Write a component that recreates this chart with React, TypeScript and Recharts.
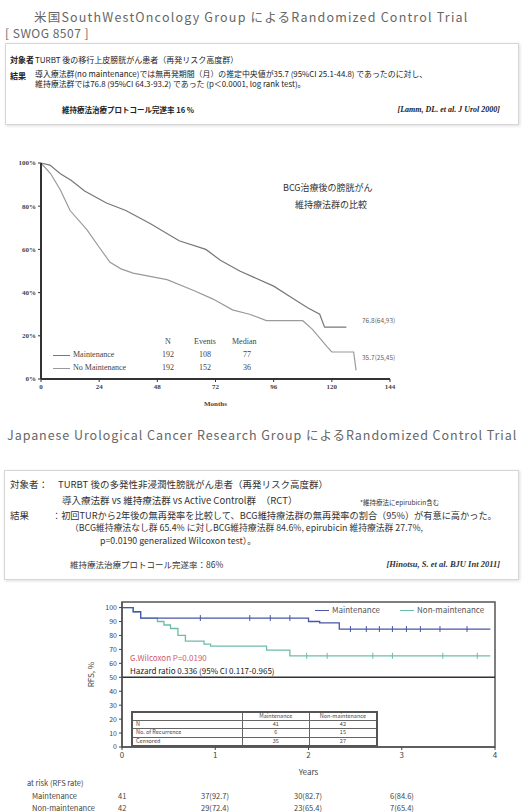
import React from "react";
import { ComposedChart, Line, LineChart, ReferenceArea, ReferenceLine, Scatter, XAxis, YAxis } from "recharts";

// SWOG 8507 (months vs % recurrence-free)
const swogMaintMonths = [0, 3.7, 8, 12.4, 18, 27, 35, 45, 57, 68, 74, 82, 96, 103, 110, 115, 117, 126];
const swogMaintPct = [100, 99, 95, 92, 87, 81.5, 78, 72, 64, 60, 55, 50, 43, 38, 33, 30, 24, 24];
const swogNoMaintMonths = [0, 4, 8, 12, 19, 24, 28.5, 33, 38, 52, 63, 71, 79, 86, 93, 108, 112, 118, 120, 129, 130];
const swogNoMaintPct = [100, 95, 87.5, 78, 69, 61, 54, 51, 49, 46, 41, 37, 32, 30, 27, 27, 23, 15, 12.5, 12.5, 4];
const swogMonthTicks = [0, 24, 48, 72, 96, 120, 144];
const swogPctTicks = [0, 20, 40, 60, 80, 100];

// JUCRG (years vs RFS %)
const jMaintYears = [0, 0.12, 0.2, 2.0, 2.12, 2.33, 3.95];
const jMaintRfs = [100, 97, 92.5, 90, 89, 84.6, 84.6];
const jNonYears = [0, 0.12, 0.2, 0.38, 0.45, 0.52, 0.6, 0.68, 0.88, 0.95, 1.55, 1.8, 3.95];
const jNonRfs = [100, 97, 92.5, 90, 87.5, 85, 80, 76, 73.8, 72.4, 69.5, 65.4, 65.4];
const jMaintCensor = [0.84, 1.37, 1.59, 1.8, 2.45, 2.62, 2.76, 2.9, 3.05, 3.2, 3.41, 3.7];
const jNonCensor = [1.98, 2.2, 2.69, 2.9, 3.44, 3.81];
const jYearTicks = [0, 1, 2, 3, 4];
const jRfsTicks = [0, 10, 20, 30, 40, 50, 60, 70, 80, 90, 100];

const atRiskRows = [
  { name: "Maintenance", v: ["41", "37(92.7)", "30(82.7)", "6(84.6)"] },
  { name: "Non-maintenance", v: ["42", "29(72.4)", "23(65.4)", "7(65.4)"] },
];

const BLUE = "#4a56a6";
const TEAL = "#6cbcaa";
const JP = "'Noto Sans CJK JP', 'Noto Sans', sans-serif";
const SERIF = "'Liberation Serif', serif";

const zip = (xs: number[], ys: number[], xk: string, yk: string) => xs.map((x, i) => ({ [xk]: x, [yk]: ys[i] }));
const stepAt = (xs: number[], ys: number[], t: number) => {
  let v = ys[0];
  xs.forEach((x, i) => {
    if (x <= t) v = ys[i];
  });
  return v;
};

function Txt({ x, y, size = 8, right, color = "#333", bold, font = JP, children, italic, spacing = 0 }: any) {
  return (
    <div
      style={{
        position: "absolute",
        top: y - size * 0.55,
        ...(right ? { right: 522 - x } : { left: x }),
        fontSize: size,
        lineHeight: 1.1,
        letterSpacing: spacing,
        color,
        fontWeight: bold ? 700 : 400,
        fontStyle: italic ? "italic" : "normal",
        fontFamily: font,
        whiteSpace: "nowrap",
      }}
    >
      {children}
    </div>
  );
}

const censorShape = (color: string) => (p: any) =>
  <line x1={p.cx} x2={p.cx} y1={p.cy - 3} y2={p.cy + 3} stroke={color} strokeWidth={1} />;

export default function App() {
  const swogMaint = zip(swogMaintMonths, swogMaintPct, "m", "p");
  const swogNoMaint = zip(swogNoMaintMonths, swogNoMaintPct, "m", "p");
  const jMaint = zip(jMaintYears, jMaintRfs, "t", "s");
  const jNon = zip(jNonYears, jNonRfs, "t", "s");
  const jMaintC = jMaintCensor.map((t) => ({ t, s: stepAt(jMaintYears, jMaintRfs, t) }));
  const jNonC = jNonCensor.map((t) => ({ t, s: stepAt(jNonYears, jNonRfs, t) }));
  const serifTick = { fontSize: 7, fill: "#444", fontWeight: 700, fontFamily: SERIF };

  return (
    <div style={{ position: "absolute", left: 0, top: 0, width: 522, height: 812, background: "#fff", overflow: "hidden", fontFamily: JP }}>
      {/* --- SWOG header --- */}
      <Txt x={34} y={17} size={12.5} spacing={1.2} color="#666">米国SouthWestOncology Group によるRandomized Control Trial</Txt>
      <Txt x={5} y={33} size={12} spacing={0.5} color="#666">[ SWOG 8507 ]</Txt>
      <div style={{ position: "absolute", left: 5, top: 43, width: 512, height: 80, border: "1px solid #d6d6d6", boxShadow: "1px 1px 3px #ddd" }} />
      <Txt x={10} y={60} size={8} bold color="#222">対象者</Txt>
      <Txt x={35} y={60} size={8} color="#222">TURBT 後の移行上皮膀胱がん患者（再発リスク高度群）</Txt>
      <Txt x={10} y={76} size={8} bold color="#222">結果</Txt>
      <Txt x={35} y={74} size={7.9} color="#222">導入療法群(no maintenance)では無再発期間（月）の推定中央値が35.7 (95%CI 25.1-44.8) であったのに対し、</Txt>
      <Txt x={35} y={84} size={7.9} color="#222">維持療法群では76.8 (95%CI 64.3-93.2) であった (p＜0.0001, log rank test)。</Txt>
      <Txt x={62} y={110} size={7.5} bold color="#222">維持療法治療プロトコール完遂率 16 %</Txt>
      <Txt x={500} y={110} size={8} right bold italic font={SERIF} color="#222">[Lamm, DL. et al. J Urol 2000]</Txt>

      {/* --- SWOG chart --- */}
      <div style={{ position: "absolute", left: 0, top: 140 }}>
        <LineChart width={420} height={270} margin={{ top: 23, right: 30, bottom: 0, left: 0 }}>
          <XAxis
            type="number"
            dataKey="m"
            domain={[0, 144]}
            ticks={swogMonthTicks}
            tick={serifTick}
            tickSize={3}
            axisLine={{ stroke: "#333", strokeWidth: 2 }}
            tickLine={{ stroke: "#333" }}
            height={31}
            label={{ value: "Months", position: "insideBottom", offset: 4, style: { ...serifTick } }}
          />
          <YAxis
            type="number"
            dataKey="p"
            domain={[0, 100]}
            ticks={swogPctTicks}
            tickFormatter={(v) => `${v}%`}
            tick={serifTick}
            tickSize={3}
            width={41}
            axisLine={{ stroke: "#333", strokeWidth: 2 }}
            tickLine={{ stroke: "#333" }}
          />
          <Line data={swogMaint} dataKey="p" type="linear" stroke="#777" strokeWidth={1.2} dot={false} isAnimationActive={false} />
          <Line data={swogNoMaint} dataKey="p" type="linear" stroke="#9a9a9a" strokeWidth={1.2} dot={false} isAnimationActive={false} />
        </LineChart>
      </div>
      <Txt x={283} y={188} size={9} color="#333">BCG治療後の膀胱がん</Txt>
      <Txt x={295} y={205} size={9} color="#333">維持療法群の比較</Txt>
      <Txt x={362} y={321} size={6.5} color="#666">76.8(64,93)</Txt>
      <Txt x={362} y={358} size={6.5} color="#666">35.7(25,45)</Txt>
      {/* legend table */}
      <Txt x={165} y={342} size={8} font={SERIF} color="#444">N</Txt>
      <Txt x={194} y={342} size={8} font={SERIF} color="#444">Events</Txt>
      <Txt x={232} y={342} size={8} font={SERIF} color="#444">Median</Txt>
      <div style={{ position: "absolute", left: 53, top: 355, width: 17, borderTop: "1px solid #777" }} />
      <Txt x={73} y={355} size={8} font={SERIF} color="#444">Maintenance</Txt>
      <Txt x={162} y={355} size={8} font={SERIF} color="#444">192</Txt>
      <Txt x={199} y={355} size={8} font={SERIF} color="#444">108</Txt>
      <Txt x={243} y={355} size={8} font={SERIF} color="#444">77</Txt>
      <div style={{ position: "absolute", left: 53, top: 368, width: 17, borderTop: "1px solid #999" }} />
      <Txt x={73} y={368} size={8} font={SERIF} color="#444">No Maintenance</Txt>
      <Txt x={162} y={368} size={8} font={SERIF} color="#444">192</Txt>
      <Txt x={199} y={368} size={8} font={SERIF} color="#444">152</Txt>
      <Txt x={243} y={368} size={8} font={SERIF} color="#444">36</Txt>

      {/* --- JUCRG header --- */}
      <Txt x={7} y={435} size={12.5} spacing={0.95} color="#666">Japanese Urological Cancer Research Group によるRandomized Control Trial</Txt>
      <div style={{ position: "absolute", left: 4, top: 470, width: 513, height: 108, border: "1px solid #d6d6d6", boxShadow: "1px 1px 3px #ddd" }} />
      <Txt x={10} y={484} size={9.5} color="#333">対象者：</Txt>
      <Txt x={58} y={484} size={9.5} color="#333">TURBT 後の多発性非浸潤性膀胱がん患者（再発リスク高度群）</Txt>
      <Txt x={62} y={500} size={9.5} color="#333">導入療法群 vs 維持療法群 vs Active Control群　（RCT）</Txt>
      <Txt x={360} y={503} size={6.5} color="#333">*維持療法にepirubicin含む</Txt>
      <Txt x={10} y={515} size={9.5} color="#333">結果</Txt>
      <Txt x={52} y={515} size={9.2} color="#333">：初回TURから2年後の無再発率を比較して、BCG維持療法群の無再発率の割合（95%）が有意に高かった。</Txt>
      <Txt x={70} y={528} size={8.8} color="#333">（BCG維持療法なし群 65.4% に対しBCG維持療法群 84.6%, epirubicin 維持療法群 27.7%,</Txt>
      <Txt x={100} y={541} size={8.8} color="#333">p=0.0190 generalized Wilcoxon test）。</Txt>
      <Txt x={70} y={565} size={8.5} color="#333">維持療法治療プロトコール完遂率：86%</Txt>
      <Txt x={500} y={565} size={8.5} right bold italic font={SERIF} color="#333">[Hinotsu, S. et al. BJU Int 2011]</Txt>

      {/* --- JUCRG chart --- */}
      <div style={{ position: "absolute", left: 60, top: 590 }}>
        <ComposedChart width={450} height={187} margin={{ top: 12, right: 15, bottom: 0, left: 0 }}>
          <XAxis
            type="number"
            dataKey="t"
            domain={[0, 4]}
            ticks={jYearTicks}
            tick={{ fontSize: 8, fill: "#444" }}
            tickSize={3}
            axisLine={{ stroke: "#555", strokeWidth: 1.5 }}
            tickLine={{ stroke: "#444" }}
            height={30}
            label={{ value: "Years", position: "insideBottom", offset: 2, style: { fontSize: 8, fill: "#444" } }}
          />
          <YAxis
            type="number"
            dataKey="s"
            domain={[0, 104]}
            ticks={jRfsTicks}
            tick={{ fontSize: 7, fill: "#444" }}
            tickSize={3}
            width={62}
            axisLine={{ stroke: "#555", strokeWidth: 1.5 }}
            tickLine={{ stroke: "#444" }}
            label={{ value: "RFS, %", angle: -90, position: "center", style: { fontSize: 8, fill: "#444" } }}
          />
          <ReferenceArea x1={0} x2={4} y1={0} y2={104} fill="none" stroke="#555" strokeWidth={1.5} ifOverflow="visible" />
          <ReferenceLine y={50} stroke="#333" strokeWidth={1.5} />
          <Line data={jNon} dataKey="s" type="stepAfter" stroke={TEAL} strokeWidth={1.3} dot={false} isAnimationActive={false} />
          <Line data={jMaint} dataKey="s" type="stepAfter" stroke={BLUE} strokeWidth={1.3} dot={false} isAnimationActive={false} />
          <Scatter data={jNonC} dataKey="s" shape={censorShape(TEAL)} isAnimationActive={false} />
          <Scatter data={jMaintC} dataKey="s" shape={censorShape(BLUE)} isAnimationActive={false} />
        </ComposedChart>
      </div>
      {/* legend */}
      <div style={{ position: "absolute", left: 315, top: 610, width: 14, borderTop: `1px solid ${BLUE}` }} />
      <Txt x={332} y={610} size={8} color="#555">Maintenance</Txt>
      <div style={{ position: "absolute", left: 400, top: 610, width: 14, borderTop: `1px solid ${TEAL}` }} />
      <Txt x={417} y={610} size={8} color="#555">Non-maintenance</Txt>
      <Txt x={130} y={658} size={8} color="#d05a6a">G.Wilcoxon P=0.0190</Txt>
      <Txt x={130} y={671} size={8} color="#222">Hazard ratio 0.336 (95% CI 0.117-0.965)</Txt>

      {/* inner summary table */}
      <table
        style={{
          position: "absolute",
          left: 131,
          top: 711,
          width: 247,
          height: 36,
          borderCollapse: "collapse",
          border: "2px solid #555",
          fontSize: 5.5,
          color: "#444",
          background: "#fff",
          lineHeight: 1,
        }}
      >
        <tbody>
          {[
            ["", "Maintenance", "Non-maintenance"],
            ["N", "41", "42"],
            ["No. of Recurrence", "6", "15"],
            ["Censored", "35", "27"],
          ].map((r, i) => (
            <tr key={i}>
              {r.map((c, j) => (
                <td
                  key={j}
                  style={{
                    border: "1px solid #666",
                    width: j === 0 ? 110 : 68,
                    padding: 0,
                    paddingLeft: j === 0 ? 3 : 0,
                    textAlign: j === 0 ? "left" : "center",
                  }}
                >
                  {c}
                </td>
              ))}
            </tr>
          ))}
        </tbody>
      </table>

      {/* at risk */}
      <Txt x={27} y={783} size={7.5} color="#444">at risk (RFS rate)</Txt>
      {atRiskRows.map((r, i) => (
        <React.Fragment key={r.name}>
          <Txt x={32} y={796 + i * 12} size={7.5} color="#444">{r.name}</Txt>
          {r.v.map((v, j) => (
            <div
              key={j}
              style={{
                position: "absolute",
                left: [118, 195, 288, 382][j],
                width: j === 0 ? 20 : 40,
                top: 796 + i * 12 - 5,
                fontSize: 7.5,
                lineHeight: 1.2,
                color: "#444",
                textAlign: j === 0 ? "left" : "center",
              }}
            >
              {v}
            </div>
          ))}
        </React.Fragment>
      ))}
    </div>
  );
}
